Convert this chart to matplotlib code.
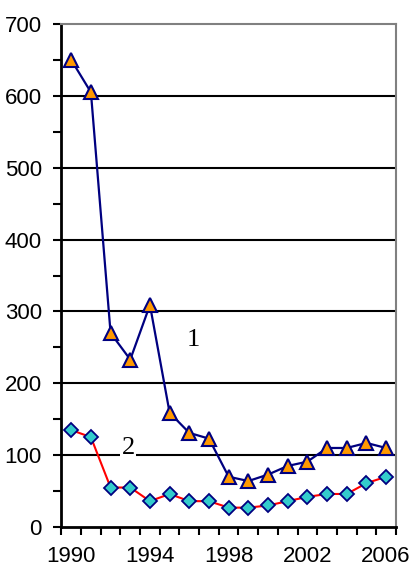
import matplotlib
matplotlib.use("Agg")
import matplotlib.pyplot as plt
import numpy as np

years = list(range(1990, 2007))
series1 = [650, 605, 270, 233, 309, 159, 131, 123, 70, 64, 73, 85, 91, 110, 110, 117, 110]
series2 = [135, 125, 55, 55, 36, 46, 36, 36, 27, 27, 30, 36, 42, 46, 46, 61, 70]
year_labels = ["1990", "1994", "1998", "2002", "2006"]

plt.rcParams['font.family'] = ['Liberation Sans', 'DejaVu Sans']

fig = plt.figure(figsize=(4.12, 5.71), dpi=100)
ax = fig.add_axes([0.149, 0.077, 0.812, 0.881])

x = np.arange(len(years))

# grid lines at every 100
for v in range(100, 700, 100):
    ax.axhline(v, color="black", lw=1.5, zorder=1)

ax.plot(x, series1, color="#000080", lw=1.6, zorder=3,
        marker="^", markersize=10, markerfacecolor="#FF9900",
        markeredgecolor="#000080", markeredgewidth=1.5)
ax.plot(x, series2, color="#FF0000", lw=1.5, zorder=3,
        marker="D", markersize=7.5, markerfacecolor="#33CCCC",
        markeredgecolor="#000080", markeredgewidth=1.3)

ax.text(6.2, 260, "1", fontsize=19, family="Liberation Serif",
        ha="center", va="center", zorder=4)
ax.text(2.9, 110, "2", fontsize=19, family="Liberation Serif",
        ha="center", va="center", zorder=4,
        bbox=dict(facecolor="white", edgecolor="none", pad=1))

ax.set_xlim(-0.5, len(years) - 0.5)
ax.set_ylim(0, 700)

# y axis
ax.set_yticks(range(0, 701, 100))
ax.set_yticks(range(50, 701, 100), minor=True)
ax.tick_params(axis="y", which="both", direction="out", length=6, width=1.5,
               labelsize=16, pad=8)

# x axis: ticks between categories, labels every 4 years
ax.set_xticks(np.arange(-0.5, len(years), 1.0))
ax.set_xticklabels([])
lab_pos = [years.index(int(s)) for s in year_labels]
ax.set_xticks(lab_pos, minor=True)
ax.set_xticklabels(year_labels, minor=True)
ax.tick_params(axis="x", which="major", direction="out", length=6, width=1.5)
ax.tick_params(axis="x", which="minor", length=0, labelsize=16, pad=14)

for side in ["left", "bottom"]:
    ax.spines[side].set_color("black")
    ax.spines[side].set_linewidth(2)
for side in ["top", "right"]:
    ax.spines[side].set_color("#808080")
    ax.spines[side].set_linewidth(1.5)

fig.savefig("out.png", dpi=100)
